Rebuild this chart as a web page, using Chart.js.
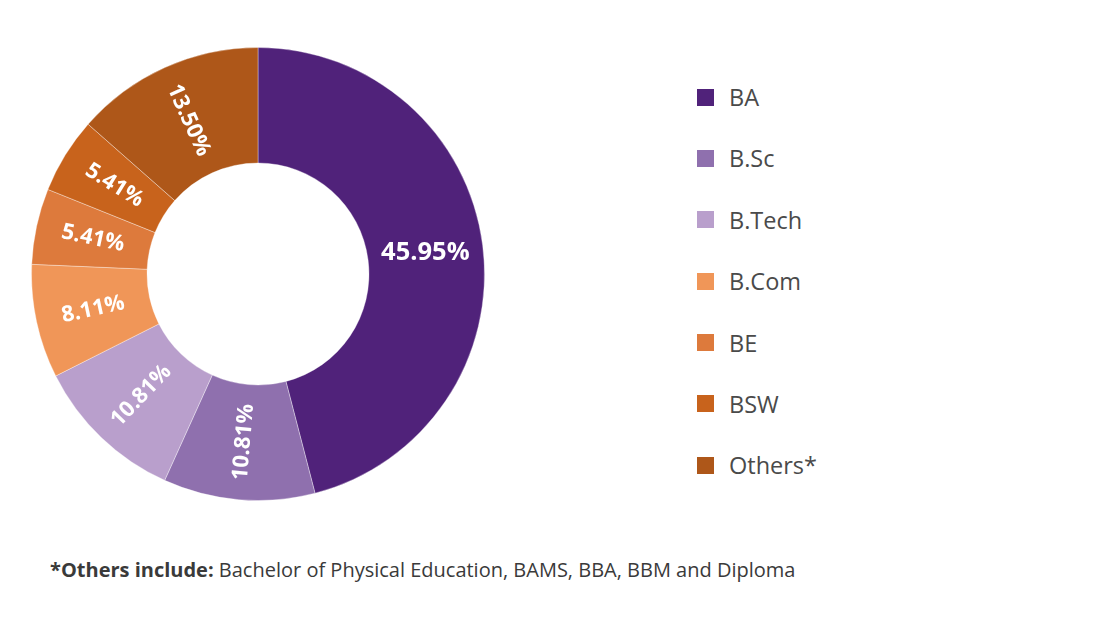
<!DOCTYPE html>
<html>
<head>
<meta charset="utf-8">
<script src="https://cdn.jsdelivr.net/npm/chart.js@4.4.0/dist/chart.umd.min.js"></script>
<style>
  body { margin:0; background:#fff; font-family:"Open Sans", Lato, sans-serif; }
  #wrap { position:relative; width:1105px; height:628px; }
  #donut { position:absolute; left:31px; top:47px; width:454px; height:454px; }
  #legend { position:absolute; left:697px; top:80px; }
  .lg { display:flex; align-items:center; height:34px; margin-bottom:27.4px; font-size:23.5px; color:#4a4a4a; }
  .lg span.sq { width:17px; height:17px; margin-right:15px; display:inline-block; }
  #note { position:absolute; left:50px; top:556px; font-size:20px; color:#3a3a3a; }
</style>
</head>
<body>
<div id="wrap">
  <div id="donut"><canvas id="c"></canvas></div>
  <div id="legend"></div>
  <div id="note"><b>*Others include:</b> Bachelor of Physical Education, BAMS, BBA, BBM and Diploma</div>
</div>
<script>
// ── data ─────────────────────────────
const labels = ['BA', 'B.Sc', 'B.Tech', 'B.Com', 'BE', 'BSW', 'Others*'];
const valori = [45.95, 10.81, 10.81, 8.11, 5.41, 5.41, 13.50];
const colori = ['#50227a', '#8f70ae', '#b99fcc', '#f09658', '#dd7a3c', '#c8631c', '#ae5719'];

// legenda HTML
document.getElementById('legend').innerHTML = labels.map((l, i) =>
  `<div class="lg"><span class="sq" style="background:${colori[i]}"></span>${l}</div>`).join('');

// etichette ruotate lungo il raggio
const etichette = {
  id: 'etichette',
  afterDatasetsDraw(chart) {
    const ctx = chart.ctx;
    const meta = chart.getDatasetMeta(0);
    meta.data.forEach((arc, i) => {
      const v = valori[i];
      const mid = (arc.startAngle + arc.endAngle) / 2;
      const r = (arc.innerRadius + arc.outerRadius) / 2;
      const x = arc.x + Math.cos(mid) * r;
      const y = arc.y + Math.sin(mid) * r;
      let rot = mid;
      if (v > 25) rot = 0;
      else {
        let deg = (rot * 180 / Math.PI) % 360;
        if (deg < 0) deg += 360;
        if (deg > 90 && deg < 270) rot += Math.PI;
      }
      ctx.save();
      ctx.translate(x, y);
      ctx.rotate(rot);
      ctx.fillStyle = '#fff';
      ctx.font = (v > 25 ? '700 25.5px' : '700 22px') + ' "Open Sans", Lato, sans-serif';
      ctx.textAlign = 'center';
      ctx.textBaseline = 'middle';
      ctx.fillText(v.toFixed(2) + '%', 0, 0);
      ctx.restore();
    });
  }
};

new Chart(document.getElementById('c').getContext('2d'), {
  type: 'doughnut',
  data: {
    labels: labels,
    datasets: [{ data: valori, backgroundColor: colori, borderColor: 'rgba(255,255,255,0.35)', borderWidth: 1 }]
  },
  options: {
    responsive: true,
    maintainAspectRatio: false,
    animation: false,
    cutout: '49%',
    layout: { padding: 0 },
    plugins: { legend: { display: false }, tooltip: { enabled: false } }
  },
  plugins: [etichette]
});
</script>
</body>
</html>
